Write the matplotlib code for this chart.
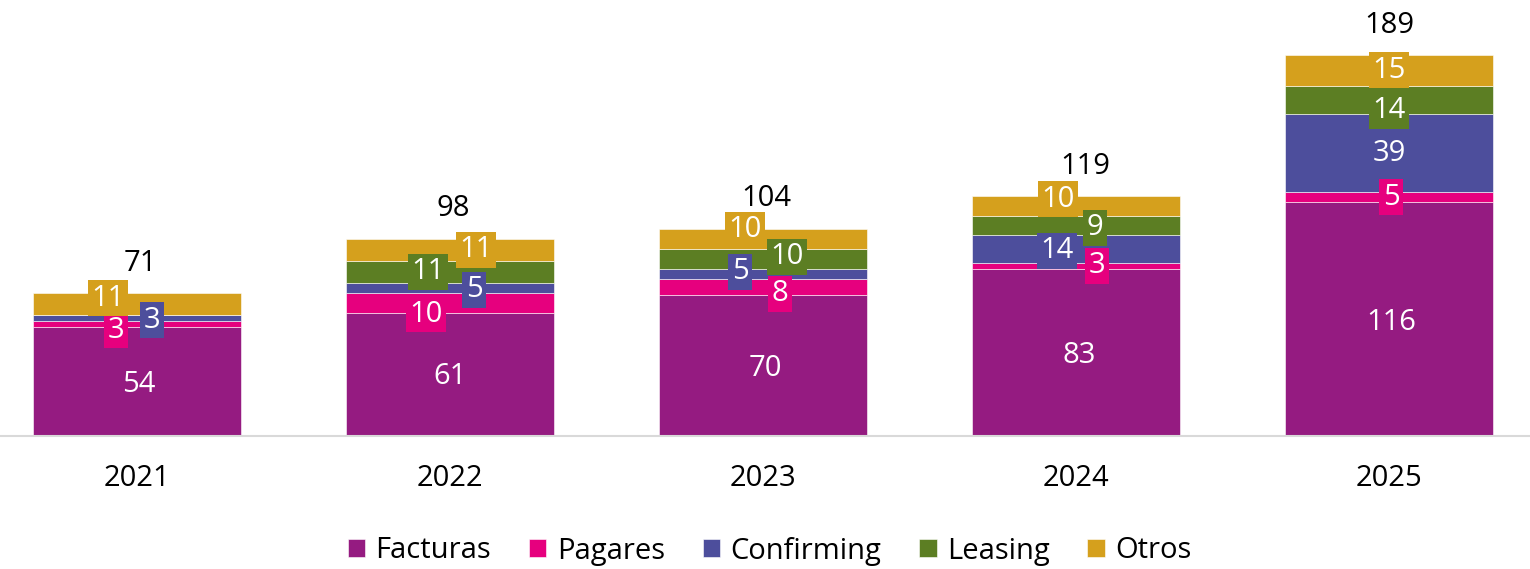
import numpy as np
import matplotlib.pyplot as plt

plt.rcParams['font.family'] = ['Open Sans', 'DejaVu Sans']

years = ['2021', '2022', '2023', '2024', '2025']
series = ['Facturas', 'Pagares', 'Confirming', 'Leasing', 'Otros']
facturas = [54, 61, 70, 83, 116]
pagares = [3, 10, 8, 3, 5]
confirming = [3, 5, 5, 14, 39]
leasing = [0, 11, 10, 9, 14]
otros = [11, 11, 10, 10, 15]
totals = [71, 98, 104, 119, 189]

colors = ['#951B81', '#E6007E', '#4D4E9C', '#5C7E23', '#D5A01D']
values = [facturas, pagares, confirming, leasing, otros]

# manual label nudges (pixels) as placed in the original, [series][year]
dx_px = [[2, 0, 2, 3, 2],
         [-21, -24, 17, 21, 2],
         [15, 24, -23, -19, 0],
         [0, -22, 24, 19, 0],
         [-29, 26, -18, -18, 0]]
dy_px = [[-3, -2, -3, -3, -3],
         [-6, -11, -7, 0, 0],
         [-2, -2, 2, -2, 0],
         [0, 0, 2, -2, -11],
         [6, 0, 9, 7, 0]]

W, H = 1530, 569
fig = plt.figure(figsize=(W / 100, H / 100), dpi=100)
base = 436
ax = fig.add_axes([0, (H - base) / H, 1, base / H])
ymax = 216.5
ax.set_ylim(0, ymax)
ax.set_xlim(-0.4377, 4.4505)
xpx = W / (4.4505 + 0.4377)
ypx = base / ymax

x = np.arange(len(years))
bottom = np.zeros(len(years))
for i, (name, vals) in enumerate(zip(series, values)):
    vals = np.array(vals, dtype=float)
    ax.bar(x, vals, bottom=bottom, width=0.665, color=colors[i], label=name,
           edgecolor='white', linewidth=0.4, zorder=2)
    for j, v in enumerate(vals):
        if v <= 0:
            continue
        ax.text(x[j] + dx_px[i][j] / xpx, bottom[j] + v / 2 + dy_px[i][j] / ypx,
                f'{int(v)}', ha='center', va='center', color='white', fontsize=21,
                zorder=5 + i,
                bbox=dict(boxstyle='square,pad=0.12', fc=colors[i], ec='none'))
    bottom += vals

tot_dx = [3, 3, 3, 9, 0]
for j, t in enumerate(totals):
    ax.text(x[j] + tot_dx[j] / xpx, bottom[j] + 30 / ypx, str(t), ha='center',
            va='center', color='black', fontsize=21, zorder=10)

for s in ['top', 'right', 'left']:
    ax.spines[s].set_visible(False)
ax.spines['bottom'].set_color('#D9D9D9')
ax.spines['bottom'].set_linewidth(1.5)
ax.set_yticks([])
ax.set_xticks(x)
ax.set_xticklabels(years, fontsize=21)
ax.tick_params(axis='x', length=0, pad=20)

fig.legend(loc='center', bbox_to_anchor=(0.503, 18 / H), ncol=5, frameon=False,
           fontsize=21, handlelength=0.6, handleheight=0.6, handletextpad=0.35,
           columnspacing=1.3)

fig.savefig('out.png', dpi=100)
